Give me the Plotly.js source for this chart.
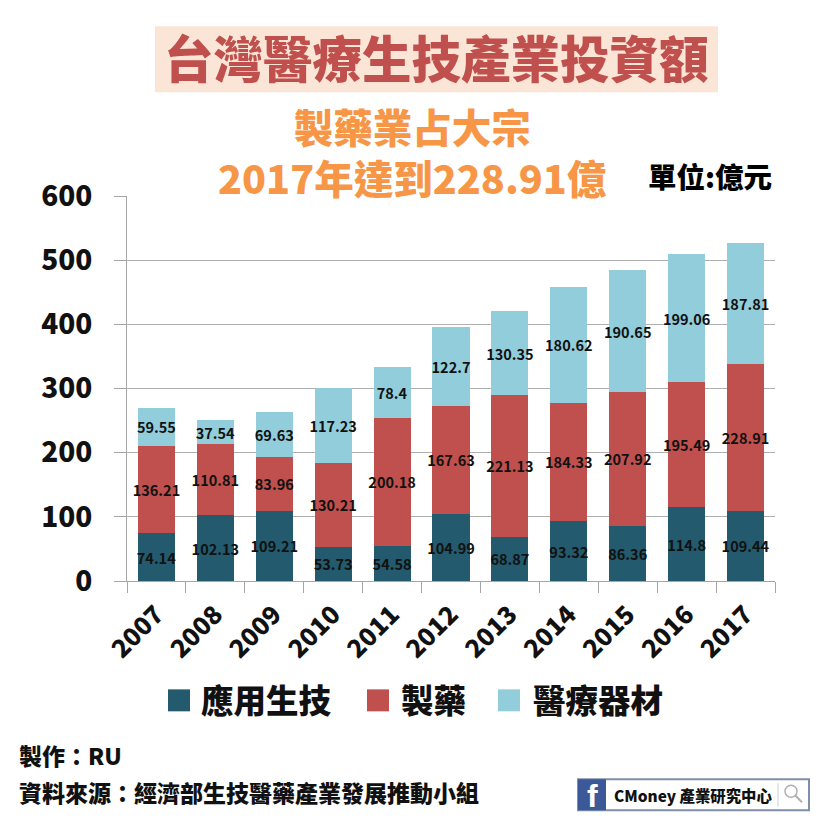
<!DOCTYPE html>
<html><head><meta charset="utf-8">
<script src="https://cdn.plot.ly/plotly-3.0.1.min.js"></script>
<style>html,body{margin:0;padding:0;background:#fff}#c{width:820px;height:820px}</style></head>
<body><div id="c"></div>
<script>
const years = ['2007','2008','2009','2010','2011','2012','2013','2014','2015','2016','2017'];
const biotech = [74.14,102.13,109.21,53.73,54.58,104.99,68.87,93.32,86.36,114.8,109.44];
const pharma = [136.21,110.81,83.96,130.21,200.18,167.63,221.13,184.33,207.92,195.49,228.91];
const devices = [59.55,37.54,69.63,117.23,78.4,122.7,130.35,180.62,190.65,199.06,187.81];
const seriesNames = ['應用生技','製藥','醫療器材'];
const seriesColors = ['#235a6e','#c0504d','#92cddc'];
const seriesValues = [biotech,pharma,devices];

const F = '"Noto Sans CJK TC","Noto Sans CJK JP",sans-serif';
const L=127,R=775,T=196,B=581.5;
const px = x => (x-L)/(R-L);
const py = y => (B-y)/(B-T);
function note(text,x,y,size,color,anchor,extra){
  return Object.assign({text,xref:'paper',yref:'paper',x:px(x),y:py(y),xanchor:anchor||'left',yanchor:'middle',
    showarrow:false,font:{family:F,size,color,weight:900},borderpad:0},extra||{});
}
function box(x0,y0,x1,y1,fill,line){
  return {type:'rect',xref:'paper',yref:'paper',layer:'below',x0:px(x0),x1:px(x1),y0:py(y0),y1:py(y1),fillcolor:fill,line:line||{width:0}};
}
const traces = seriesNames.map((n,i)=>({
  type:'bar',name:n,x:years,y:seriesValues[i],width:0.63,
  marker:{color:seriesColors[i],line:{width:0}},
  text:seriesValues[i].map(String),textposition:'inside',insidetextanchor:'middle',textangle:0,
  constraintext:'none',cliponaxis:false,
  textfont:{family:F,size:14.5,color:'#111',weight:700},hoverinfo:'x+y+name'
}));
const shapes = [
  box(155,26,718,92,'#fbe5d6'),
  box(168,690,190,712,seriesColors[0]),
  box(367,690,389,712,seriesColors[1]),
  box(498,690,520,712,seriesColors[2]),
  box(578,780,809,811,'#ffffff',{color:'#7f8fa9',width:2}),
  box(578,780,606,811,'#3b5998'),
  {type:'line',xref:'paper',yref:'paper',x0:px(778),x1:px(778),y0:py(784),y1:py(807),line:{color:'#d0d0d0',width:1}},
  {type:'circle',xref:'paper',yref:'paper',x0:px(785),x1:px(797),y0:py(786),y1:py(798),line:{color:'#b0b0b0',width:1.5}},
  {type:'line',xref:'paper',yref:'paper',x0:px(795),x1:px(802),y0:py(796),y1:py(803),line:{color:'#b0b0b0',width:2}}
];
const annotations = [
  note('台灣醫療生技產業投資額',436,56,49.5,'#c0504d','center'),
  note('製藥業占大宗<br>2017年達到228.91億',412,151,39.5,'#f79646','center',{align:'center'}),
  note('單位:億元',710,175,28.5,'#000','center'),
  note(seriesNames[0],200,699,32.5,'#111'),
  note(seriesNames[1],400,699,32.5,'#111'),
  note(seriesNames[2],532,699,32.5,'#111'),
  note('製作：RU',18,756,23,'#111'),
  note('資料來源：經濟部生技醫藥產業發展推動小組',18,793,23,'#111'),
  note('f',592,797,30,'#fff','center',{font:{family:'"Liberation Sans",sans-serif',size:32,color:'#fff',weight:700}}),
  note('CMoney 產業研究中心',613,796,15.4,'#111')
];
Plotly.newPlot('c',traces,{
  width:820,height:820,barmode:'stack',showlegend:false,
  paper_bgcolor:'#fff',plot_bgcolor:'#fff',
  margin:{l:L,r:820-R,t:T,b:820-B,pad:0},
  xaxis:{type:'category',tickson:'boundaries',ticks:'outside',ticklen:11,tickcolor:'#a6a6a6',tickwidth:1,
    showline:true,linecolor:'#a6a6a6',showgrid:false,tickangle:-45,ticklabelstandoff:8,
    tickfont:{family:F,size:25,color:'#111',weight:900}},
  yaxis:{range:[0,600],tickvals:[0,100,200,300,400,500,600],ticks:'outside',ticklen:12,tickcolor:'#a6a6a6',tickwidth:1,
    showline:true,linecolor:'#a6a6a6',gridcolor:'#b0b0b0',gridwidth:1,zeroline:false,ticklabelstandoff:16,
    tickfont:{family:F,size:28,color:'#111',weight:900}},
  shapes,annotations
},{displayModeBar:false});
</script></body></html>
